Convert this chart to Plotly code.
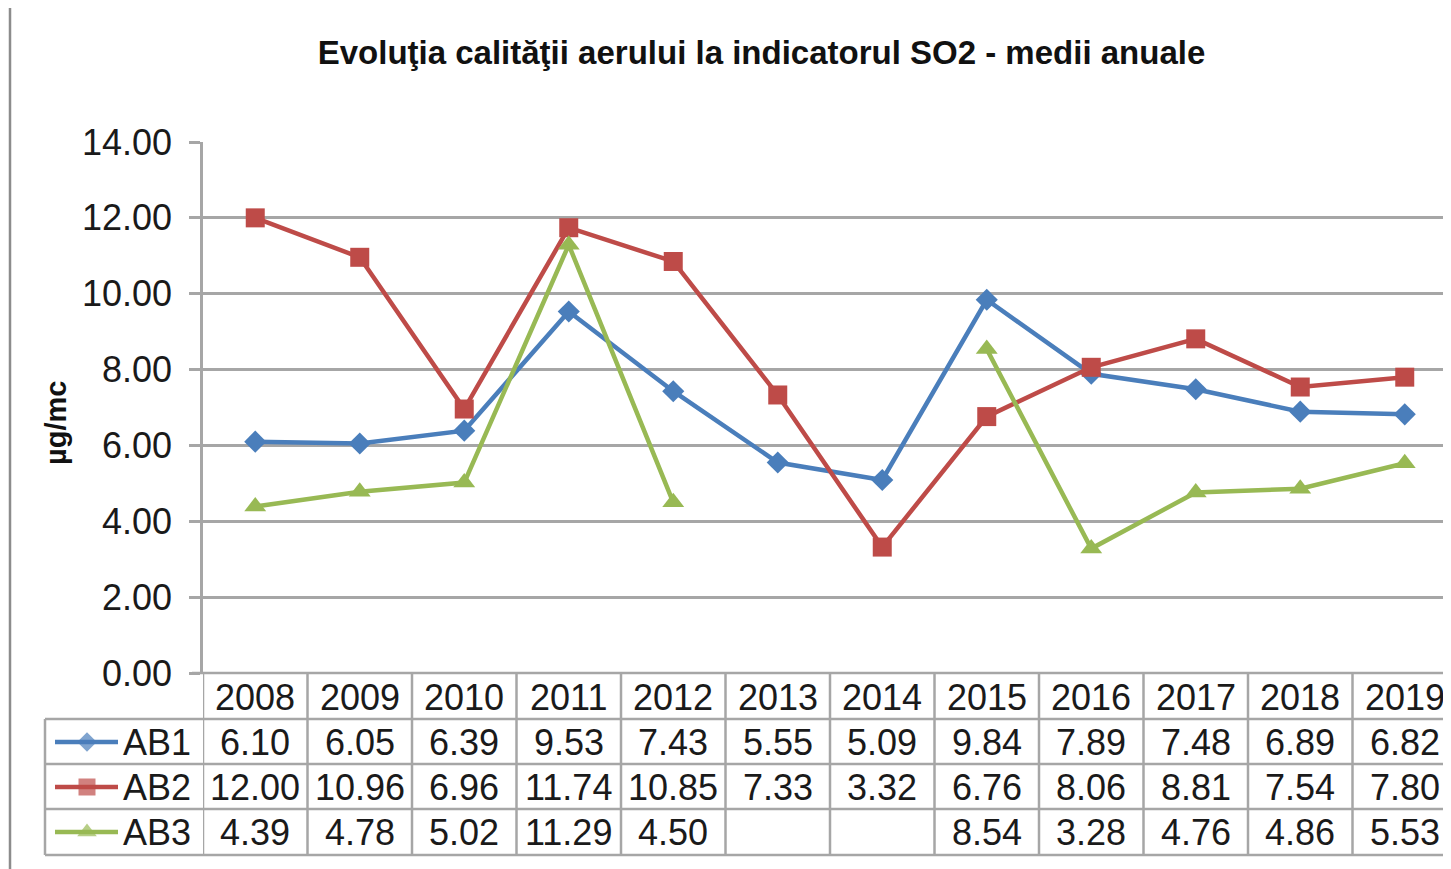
import plotly.graph_objects as go

years = ["2008", "2009", "2010", "2011", "2012", "2013", "2014", "2015", "2016", "2017", "2018", "2019"]
ab1 = [6.10, 6.05, 6.39, 9.53, 7.43, 5.55, 5.09, 9.84, 7.89, 7.48, 6.89, 6.82]
ab2 = [12.00, 10.96, 6.96, 11.74, 10.85, 7.33, 3.32, 6.76, 8.06, 8.81, 7.54, 7.80]
ab3 = [4.39, 4.78, 5.02, 11.29, 4.50, None, None, 8.54, 3.28, 4.76, 4.86, 5.53]
series_names = ["AB1", "AB2", "AB3"]
y_ticks = [0, 2, 4, 6, 8, 10, 12, 14]

# page body has an 8px margin; figure coordinates = page coordinates - OFF
OFF = 8
W, H = 1451 - OFF, 869 - OFF
colors = ["#4A7EBB", "#BE4B48", "#98B954"]
symbols = ["diamond", "square", "triangle-up"]
msizes = [17, 19, 19]
FONT = "Liberation Sans, Arial, sans-serif"
GRID = "#A6A6A6"
TXT = 36

def px_x(p):
    return (p - OFF) / W

def px_y(p):
    return 1 - (p - OFF) / H

plot_left, plot_top, plot_bottom = 203, 142, 673
row_lines = [719, 764, 809, 855]
row_centers = [697, 742, 787, 832]

x_idx = list(range(len(years)))
all_series = [ab1, ab2, ab3]

fig = go.Figure()
for name, vals, c, s, ms in zip(series_names, all_series, colors, symbols, msizes):
    fig.add_trace(go.Scatter(
        x=x_idx, y=vals, mode="lines+markers", name=name,
        line=dict(color=c, width=4.5), connectgaps=False,
        marker=dict(symbol=s, size=ms, color=c, line=dict(width=0)),
        showlegend=False, xaxis="x", yaxis="y", cliponaxis=False))

# legend keys inside the data table (pixel-coordinate overlay axes)
for i, (c, s, ms) in enumerate(zip(colors, symbols, msizes)):
    yc = row_centers[i + 1] - OFF
    fig.add_trace(go.Scatter(
        x=[55 - OFF, 87 - OFF, 118 - OFF], y=[yc, yc, yc], mode="lines+markers",
        line=dict(color=c, width=4.5),
        marker=dict(symbol=s, size=[0, ms - 2, 0], color=c, line=dict(width=0)),
        showlegend=False, hoverinfo="skip", xaxis="x2", yaxis="y2"))

n = len(years)
x_right_px = 1451
w_cat = 104.5
x_range = [-0.5, -0.5 + (x_right_px - plot_left) / w_cat]

fig.update_layout(
    width=W, height=H, autosize=False,
    margin=dict(l=0, r=0, t=0, b=0, pad=0),
    paper_bgcolor="white", plot_bgcolor="rgba(0,0,0,0)",
    font=dict(family=FONT, size=TXT, color="#1a1a1a"),
    title=dict(text="<b>Evoluţia calităţii aerului la indicatorul SO2 - medii anuale</b>",
               x=px_x((260 + 1263) / 2), xanchor="center", y=px_y(52), yanchor="middle",
               automargin=False,
               font=dict(family=FONT, size=33, color="#111")),
    xaxis=dict(domain=[px_x(plot_left), 1], range=x_range, showticklabels=False, automargin=False,
               showgrid=False, zeroline=False, ticks="", showline=False, anchor="y"),
    yaxis=dict(domain=[px_y(plot_bottom), px_y(plot_top)], range=[0, 14], automargin=False,
               tickvals=y_ticks, ticktext=[f"{v:.2f}" for v in y_ticks],
               showgrid=True, gridcolor=GRID, gridwidth=2.5, zeroline=False,
               showline=True, linecolor=GRID, linewidth=2.5,
               ticks="outside", ticklen=11, tickcolor=GRID, tickwidth=2.5,
               ticklabelstandoff=10,
               tickfont=dict(family=FONT, size=TXT, color="#1a1a1a"),
               anchor="x"),
    xaxis2=dict(domain=[0, 1], range=[0, W], visible=False, anchor="y2", automargin=False),
    yaxis2=dict(domain=[0, 1], range=[H, 0], visible=False, anchor="x2", automargin=False),
)

shapes = []
# outer chart border (left and top visible)
shapes.append(dict(type="line", xref="paper", yref="paper", x0=px_x(10), x1=px_x(10), y0=0, y1=1,
                   line=dict(color="#8C8C8C", width=2.5)))
# axis baseline (top of header row), extended left with tick
shapes.append(dict(type="line", xref="paper", yref="paper", x0=px_x(192), x1=1, y0=px_y(plot_bottom), y1=px_y(plot_bottom),
                   line=dict(color=GRID, width=2.5)))
# horizontal table lines
for r in row_lines:
    shapes.append(dict(type="line", xref="paper", yref="paper", x0=px_x(45), x1=1, y0=px_y(r), y1=px_y(r),
                       line=dict(color=GRID, width=2.5)))
# legend column left edge
shapes.append(dict(type="line", xref="paper", yref="paper", x0=px_x(45), x1=px_x(45),
                   y0=px_y(row_lines[0]), y1=px_y(row_lines[-1]),
                   line=dict(color=GRID, width=2.5)))
# category boundaries
for k in range(n + 1):
    shapes.append(dict(type="line", xref="x", yref="paper", x0=k - 0.5, x1=k - 0.5,
                       y0=px_y(plot_bottom), y1=px_y(row_lines[-1]),
                       line=dict(color=GRID, width=2.5)))
fig.update_layout(shapes=shapes)

ann = []
# y-axis title
ann.append(dict(x=px_x(56), y=px_y(423), xref="paper", yref="paper", text="<b>µg/mc</b>",
                textangle=-90, showarrow=False, xanchor="center", yanchor="middle",
                font=dict(family=FONT, size=29, color="#111")))
for i, yr in enumerate(years):
    ann.append(dict(x=i, y=px_y(row_centers[0]), xref="x", yref="paper", text=yr, showarrow=False,
                    xanchor="center", yanchor="middle", font=dict(family=FONT, size=TXT, color="#1a1a1a")))
for r, vals in enumerate(all_series):
    for i, v in enumerate(vals):
        if v is None:
            continue
        ann.append(dict(x=i, y=px_y(row_centers[r + 1]), xref="x", yref="paper", text=f"{v:.2f}",
                        showarrow=False, xanchor="center", yanchor="middle",
                        font=dict(family=FONT, size=TXT, color="#1a1a1a")))
for r, name in enumerate(series_names):
    ann.append(dict(x=px_x(121), y=px_y(row_centers[r + 1]), xref="paper", yref="paper", text=name,
                    showarrow=False, xanchor="left", yanchor="middle",
                    font=dict(family=FONT, size=TXT, color="#1a1a1a")))
fig.update_layout(annotations=ann)

fig.write_html("out.html")
